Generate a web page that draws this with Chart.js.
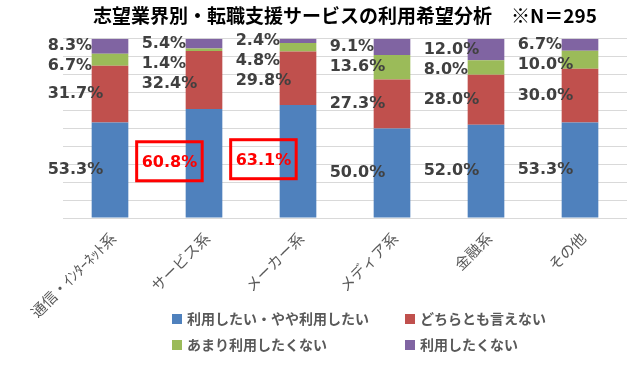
<!DOCTYPE html>
<html>
<head>
<meta charset="utf-8">
<script src="https://cdn.jsdelivr.net/npm/chart.js@4/dist/chart.umd.min.js"></script>
<style>
  body { margin: 0; background: #fff; }
</style>
</head>
<body>
<canvas id="chart" width="642" height="369"></canvas>
<script>
const categories = ['IT・通信・ｲﾝﾀｰﾈｯﾄ系', 'サービス系', 'メーカー系', 'メディア系', '金融系', 'その他']
const seriesNames = ['利用したい・やや利用したい', 'どちらとも言えない', 'あまり利用したくない', '利用したくない']
const want = [53.3, 60.8, 63.1, 50.0, 52.0, 53.3]
const neutral = [31.7, 32.4, 29.8, 27.3, 28.0, 30.0]
const ratherNot = [6.7, 1.4, 4.8, 13.6, 8.0, 10.0]
const notWant = [8.3, 5.4, 2.4, 9.1, 12.0, 6.7]
const highlight = [false, true, true, false, false, false]
const colors = ['#4F81BD', '#C0504D', '#9BBB59', '#8064A2']
const yTicks = [0, 10, 20, 30, 40, 50, 60, 70, 80, 90, 100]

const LABEL_FONT = 'bold 16px "DejaVu Sans"'
const CJK = '"Noto Sans CJK JP", "Noto Sans", sans-serif'

// value labels left of each bar, pushed apart when segments are thin
const barLabels = {
    id: 'barLabels',
    afterDatasetsDraw(chart) {
        const ctx = chart.ctx
        ctx.save()
        ctx.font = LABEL_FONT
        ctx.textAlign = 'left'
        ctx.textBaseline = 'middle'
        for (let i = 0; i < categories.length; ++i) {
            let prev = -Infinity
            for (let d = chart.data.datasets.length - 1; d >= 0; --d) {
                const bar = chart.getDatasetMeta(d).data[i]
                let cy = Math.max((bar.y + bar.base) / 2, prev + 20)
                prev = cy
                const text = chart.data.datasets[d].data[i].toFixed(1) + '%'
                const x = bar.x - bar.width / 2 - 44
                const w = ctx.measureText(text).width
                if (d === 0 && highlight[i]) {
                    ctx.fillStyle = '#FF0000'
                    ctx.strokeStyle = '#FF0000'
                    ctx.lineWidth = 3
                    ctx.strokeRect(x - 5, cy - 21.5, w + 10, 39)
                } else {
                    ctx.fillStyle = '#404040'
                }
                ctx.fillText(text, x, cy)
            }
        }
        ctx.restore()
    }
}

// 2 x 2 legend under the axis
const gridLegend = {
    id: 'gridLegend',
    afterDraw(chart) {
        const ctx = chart.ctx
        const area = chart.chartArea
        ctx.save()
        ctx.font = 'bold 14px ' + CJK
        ctx.textBaseline = 'middle'
        ctx.textAlign = 'left'
        chart.data.datasets.forEach((ds, k) => {
            const x = area.left + 109 + (k % 2) * 233
            const y = area.bottom + 101 + Math.floor(k / 2) * 26
            ctx.fillStyle = ds.backgroundColor
            ctx.fillRect(x, y - 5, 10, 10)
            ctx.fillStyle = '#595959'
            ctx.fillText(ds.label, x + 15, y)
        })
        ctx.restore()
    }
}

const series = [want, neutral, ratherNot, notWant]

let ctx = document.getElementById('chart').getContext('2d')
let chart = new Chart(ctx, {
    type: 'bar',
    data: {
        labels: categories,
        datasets: series.map((vals, k) => ({
            label: seriesNames[k],
            data: vals,
            backgroundColor: colors[k],
            borderWidth: 0,
            categoryPercentage: 1,
            barPercentage: 0.39
        }))
    },
    options: {
        responsive: false,
        animation: false,
        layout: { padding: { left: 63, right: 15, top: 0, bottom: 51 } },
        plugins: {
            legend: { display: false },
            tooltip: { enabled: false },
            title: {
                display: true,
                fullSize: false,
                text: '志望業界別・転職支援サービスの利用希望分析　※N＝295',
                color: '#000000',
                font: { family: CJK, size: 19, weight: 'bold' },
                padding: { top: 4, bottom: 12 }
            }
        },
        scales: {
            x: {
                stacked: true,
                grid: { display: false },
                border: { display: false },
                ticks: {
                    color: '#595959',
                    font: { family: CJK, size: 15 },
                    minRotation: 45,
                    maxRotation: 45,
                    autoSkip: false,
                    padding: 3,
                    labelOffset: 3
                },
                afterFit(scale) {
                    scale.paddingLeft = 0
                    scale.paddingRight = 0
                    scale.height = 100
                }
            },
            y: {
                stacked: true,
                min: 0,
                max: 100,
                afterBuildTicks(scale) {
                    scale.ticks = yTicks.map(v => ({ value: v }))
                },
                grid: { color: '#D9D9D9', drawTicks: false, lineWidth: 1 },
                border: { display: false },
                ticks: { display: false }
            }
        }
    },
    plugins: [barLabels, gridLegend]
})
</script>
</body>
</html>
